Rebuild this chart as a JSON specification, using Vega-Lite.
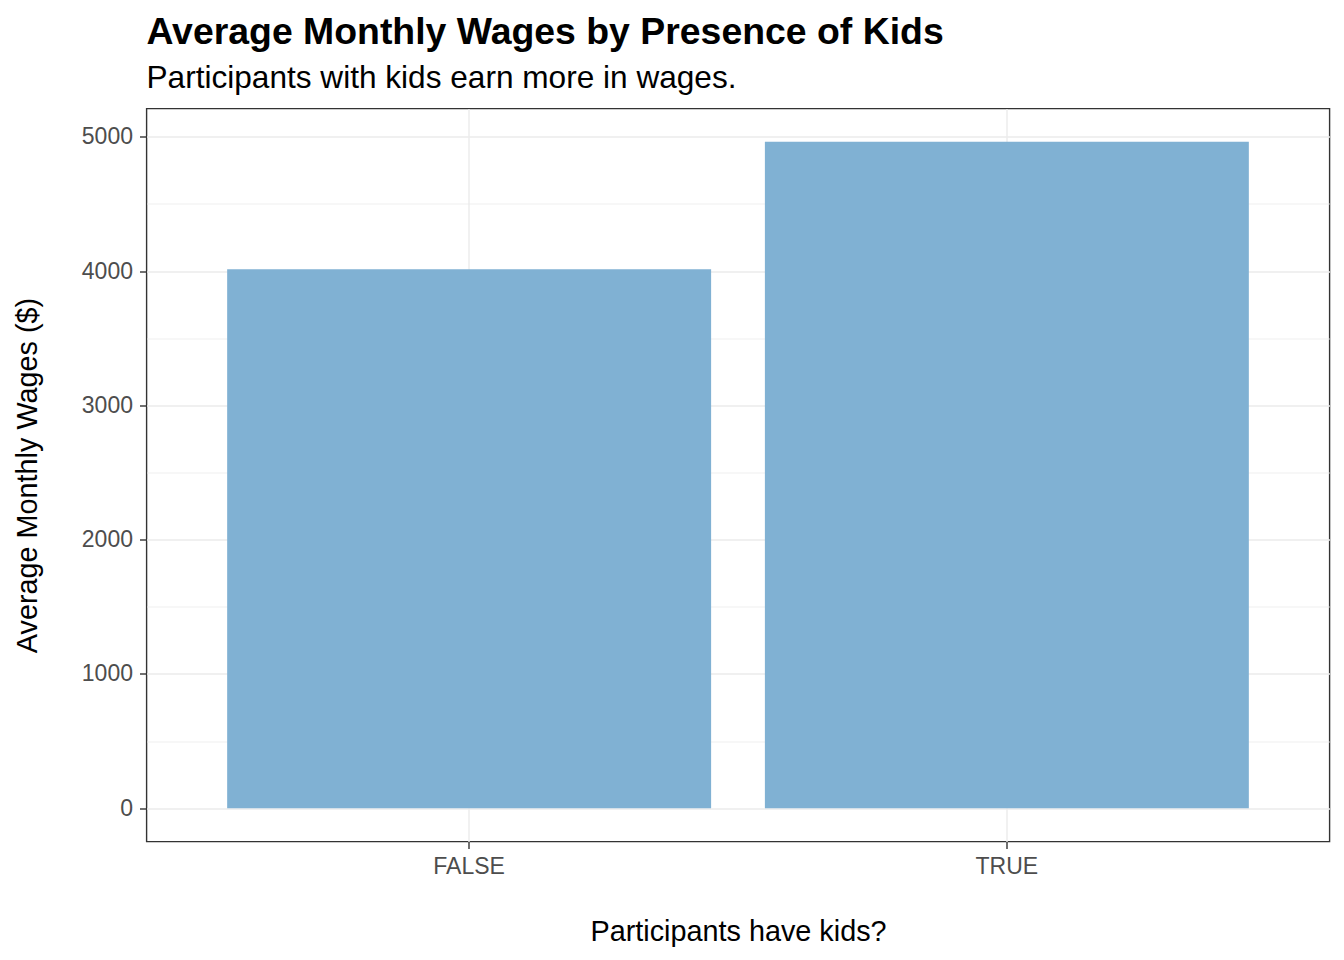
{
  "$schema": "https://vega.github.io/schema/vega-lite/v6.json",
  "width": 1183,
  "height": 733,
  "autosize": {"type": "none"},
  "padding": {"left": 146.5, "top": 108.5, "right": 14.5, "bottom": 118.5},
  "background": "white",
  "config": {
    "view": {"stroke": "#333333", "strokeWidth": 1.4},
    "font": "Liberation Sans"
  },
  "title": {
    "text": "Average Monthly Wages by Presence of Kids",
    "subtitle": "Participants with kids earn more in wages.",
    "anchor": "start",
    "frame": "group",
    "font": "Liberation Sans",
    "fontSize": 37.4,
    "fontWeight": "bold",
    "color": "#000000",
    "subtitleFont": "Liberation Sans",
    "subtitleFontSize": 31.6,
    "subtitleColor": "#000000",
    "subtitlePadding": 12,
    "offset": 14
  },
  "data": {
    "values": [
      {"kids": "FALSE", "wages": 4014},
      {"kids": "TRUE", "wages": 4963}
    ]
  },
  "mark": {"type": "bar", "color": "#80B1D3"},
  "encoding": {
    "x": {
      "field": "kids",
      "type": "nominal",
      "sort": ["FALSE", "TRUE"],
      "scale": {"paddingInner": 0.1, "paddingOuter": 0.15},
      "axis": {
        "title": "Participants have kids?",
        "titleFontSize": 28.8,
        "titleFontWeight": "normal",
        "titleColor": "#000000",
        "titlePadding": 39,
        "labelAngle": 0,
        "labelFontSize": 23,
        "labelColor": "#4D4D4D",
        "labelPadding": 7,
        "tickSize": 7,
        "tickColor": "#333333",
        "tickWidth": 1.4,
        "domain": false,
        "grid": true,
        "gridColor": "#EBEBEB",
        "gridWidth": 1.4,
        "bandPosition": 0.5
      }
    },
    "y": {
      "field": "wages",
      "type": "quantitative",
      "scale": {"domain": [-248, 5211], "nice": false, "zero": false},
      "axis": {
        "title": "Average Monthly Wages ($)",
        "titleFontSize": 28.8,
        "titleFontWeight": "normal",
        "titleColor": "#000000",
        "titlePadding": 39,
        "values": [0, 500, 1000, 1500, 2000, 2500, 3000, 3500, 4000, 4500, 5000],
        "format": "d",
        "labelExpr": "datum.value % 1000 === 0 ? datum.label : ''",
        "labelFontSize": 23,
        "labelColor": "#4D4D4D",
        "labelPadding": 7,
        "tickSize": 7,
        "tickColor": "#333333",
        "tickWidth": 1.4,
        "tickOpacity": {"condition": {"test": "datum.value % 1000 === 0", "value": 1}, "value": 0},
        "domain": false,
        "grid": true,
        "gridColor": "#EBEBEB",
        "gridWidth": {"condition": {"test": "datum.value % 1000 === 0", "value": 1.4}, "value": 0.8}
      }
    }
  }
}
